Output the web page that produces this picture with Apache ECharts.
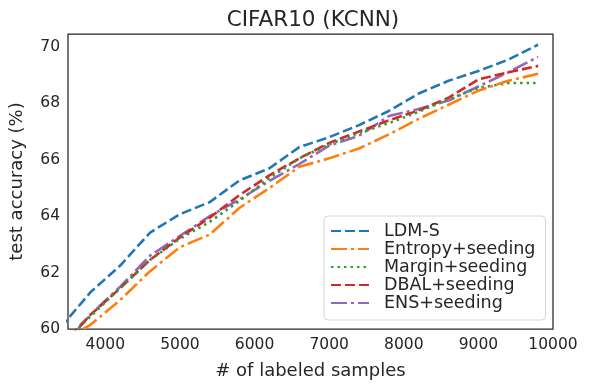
<!DOCTYPE html>
<html lang="en">
<head>
    <meta charset="UTF-8">
    <title>CIFAR10 (KCNN)</title>
    <script src="https://cdn.jsdelivr.net/npm/echarts@6/dist/echarts.min.js"></script>
    <style>
        * { margin: 0; padding: 0; box-sizing: border-box; }
        body { background: #fff; }
        #chart { width: 589px; height: 390px; }
    </style>
</head>
<body>
    <div id="chart"></div>
    <script>
        // number of labeled samples
        const samples = [3400, 3800, 4200, 4600, 5000, 5400, 5800, 6200, 6600, 7000, 7400, 7800, 8200, 8600, 9000, 9400, 9800];

        // test accuracy (%) per method
        const ldmS    = [60.05, 61.30, 62.25, 63.42, 64.07, 64.50, 65.27, 65.70, 66.45, 66.80, 67.23, 67.73, 68.35, 68.80, 69.15, 69.55, 70.08];
        const entropy = [59.50, 60.15, 61.03, 62.05, 62.90, 63.35, 64.30, 65.00, 65.75, 66.05, 66.40, 66.90, 67.45, 67.95, 68.45, 68.80, 69.05];
        const margin  = [59.40, 60.45, 61.45, 62.45, 63.20, 63.80, 64.55, 65.35, 66.05, 66.55, 66.95, 67.30, 67.70, 68.15, 68.55, 68.72, 68.72];
        const dbal    = [59.40, 60.50, 61.45, 62.45, 63.25, 63.95, 64.75, 65.45, 66.05, 66.60, 67.00, 67.40, 67.75, 68.20, 68.85, 69.10, 69.33];
        const ens     = [59.30, 60.50, 61.50, 62.60, 63.30, 64.00, 64.60, 65.25, 65.85, 66.50, 66.85, 67.55, 67.80, 68.10, 68.60, 69.10, 69.65];

        const names = ['LDM-S', 'Entropy+seeding', 'Margin+seeding', 'DBAL+seeding', 'ENS+seeding'];
        const colors = ['#1f77b4', '#ff7f0e', '#2ca02c', '#d62728', '#9467bd'];
        const dashes = [[10, 4], [16, 4, 3, 4], [2.5, 4], [10, 4], [16, 4, 3, 4]];
        const values = [ldmS, entropy, margin, dbal, ens];

        const font = 'DejaVu Sans';
        const ink = '#262626';

        const chart = echarts.init(document.getElementById('chart'), null, { renderer: 'canvas' });

        const series = names.map((name, i) => ({
            name: name,
            type: 'line',
            data: samples.map((x, j) => [x, values[i][j]]),
            symbol: 'none',
            clip: true,
            lineStyle: { color: colors[i], width: 2.6, type: dashes[i], cap: 'butt' },
            itemStyle: { color: colors[i] },
            z: 10 - i
        }));

        chart.setOption({
            animation: false,
            title: {
                text: 'CIFAR10 (KCNN)',
                left: 308, top: 4, textAlign: 'center',
                textStyle: { fontFamily: font, fontSize: 21.5, fontWeight: 'normal', color: ink }
            },
            grid: {
                left: 64, right: 36, top: 34, bottom: 61,
                show: true, borderColor: ink, borderWidth: 1.25, backgroundColor: '#fff'
            },
            legend: {
                data: names,
                orient: 'vertical',
                left: 324, top: 216,
                padding: [6, 10, 8, 6],
                itemWidth: 38, itemHeight: 10, itemGap: 0,
                itemStyle: { opacity: 0 },
                backgroundColor: '#fff',
                borderColor: '#d6d6d6', borderWidth: 1, borderRadius: 4,
                textStyle: { fontFamily: font, fontSize: 17.5, color: ink, lineHeight: 18, padding: [0, 0, 0, 10] }
            },
            xAxis: {
                type: 'value',
                min: 3500, max: 10000, interval: 500,
                name: '# of labeled samples',
                nameLocation: 'middle', nameGap: 33,
                nameTextStyle: { fontFamily: font, fontSize: 18, color: ink },
                axisLine: { show: false },
                axisTick: { show: false },
                splitLine: { show: false },
                axisLabel: {
                    fontFamily: font, fontSize: 15.5, color: ink, margin: 8,
                    formatter: v => (v % 1000 === 0 ? String(v) : '')
                }
            },
            yAxis: {
                type: 'value',
                min: 60, max: 70.46, interval: 2,
                name: 'test accuracy (%)',
                nameLocation: 'middle', nameGap: 42,
                nameTextStyle: { fontFamily: font, fontSize: 18, color: ink },
                axisLine: { show: false },
                axisTick: { show: false },
                splitLine: { show: false },
                axisLabel: { fontFamily: font, fontSize: 15.5, color: ink, margin: 8, showMaxLabel: false }
            },
            series: series
        });
    </script>
</body>
</html>
